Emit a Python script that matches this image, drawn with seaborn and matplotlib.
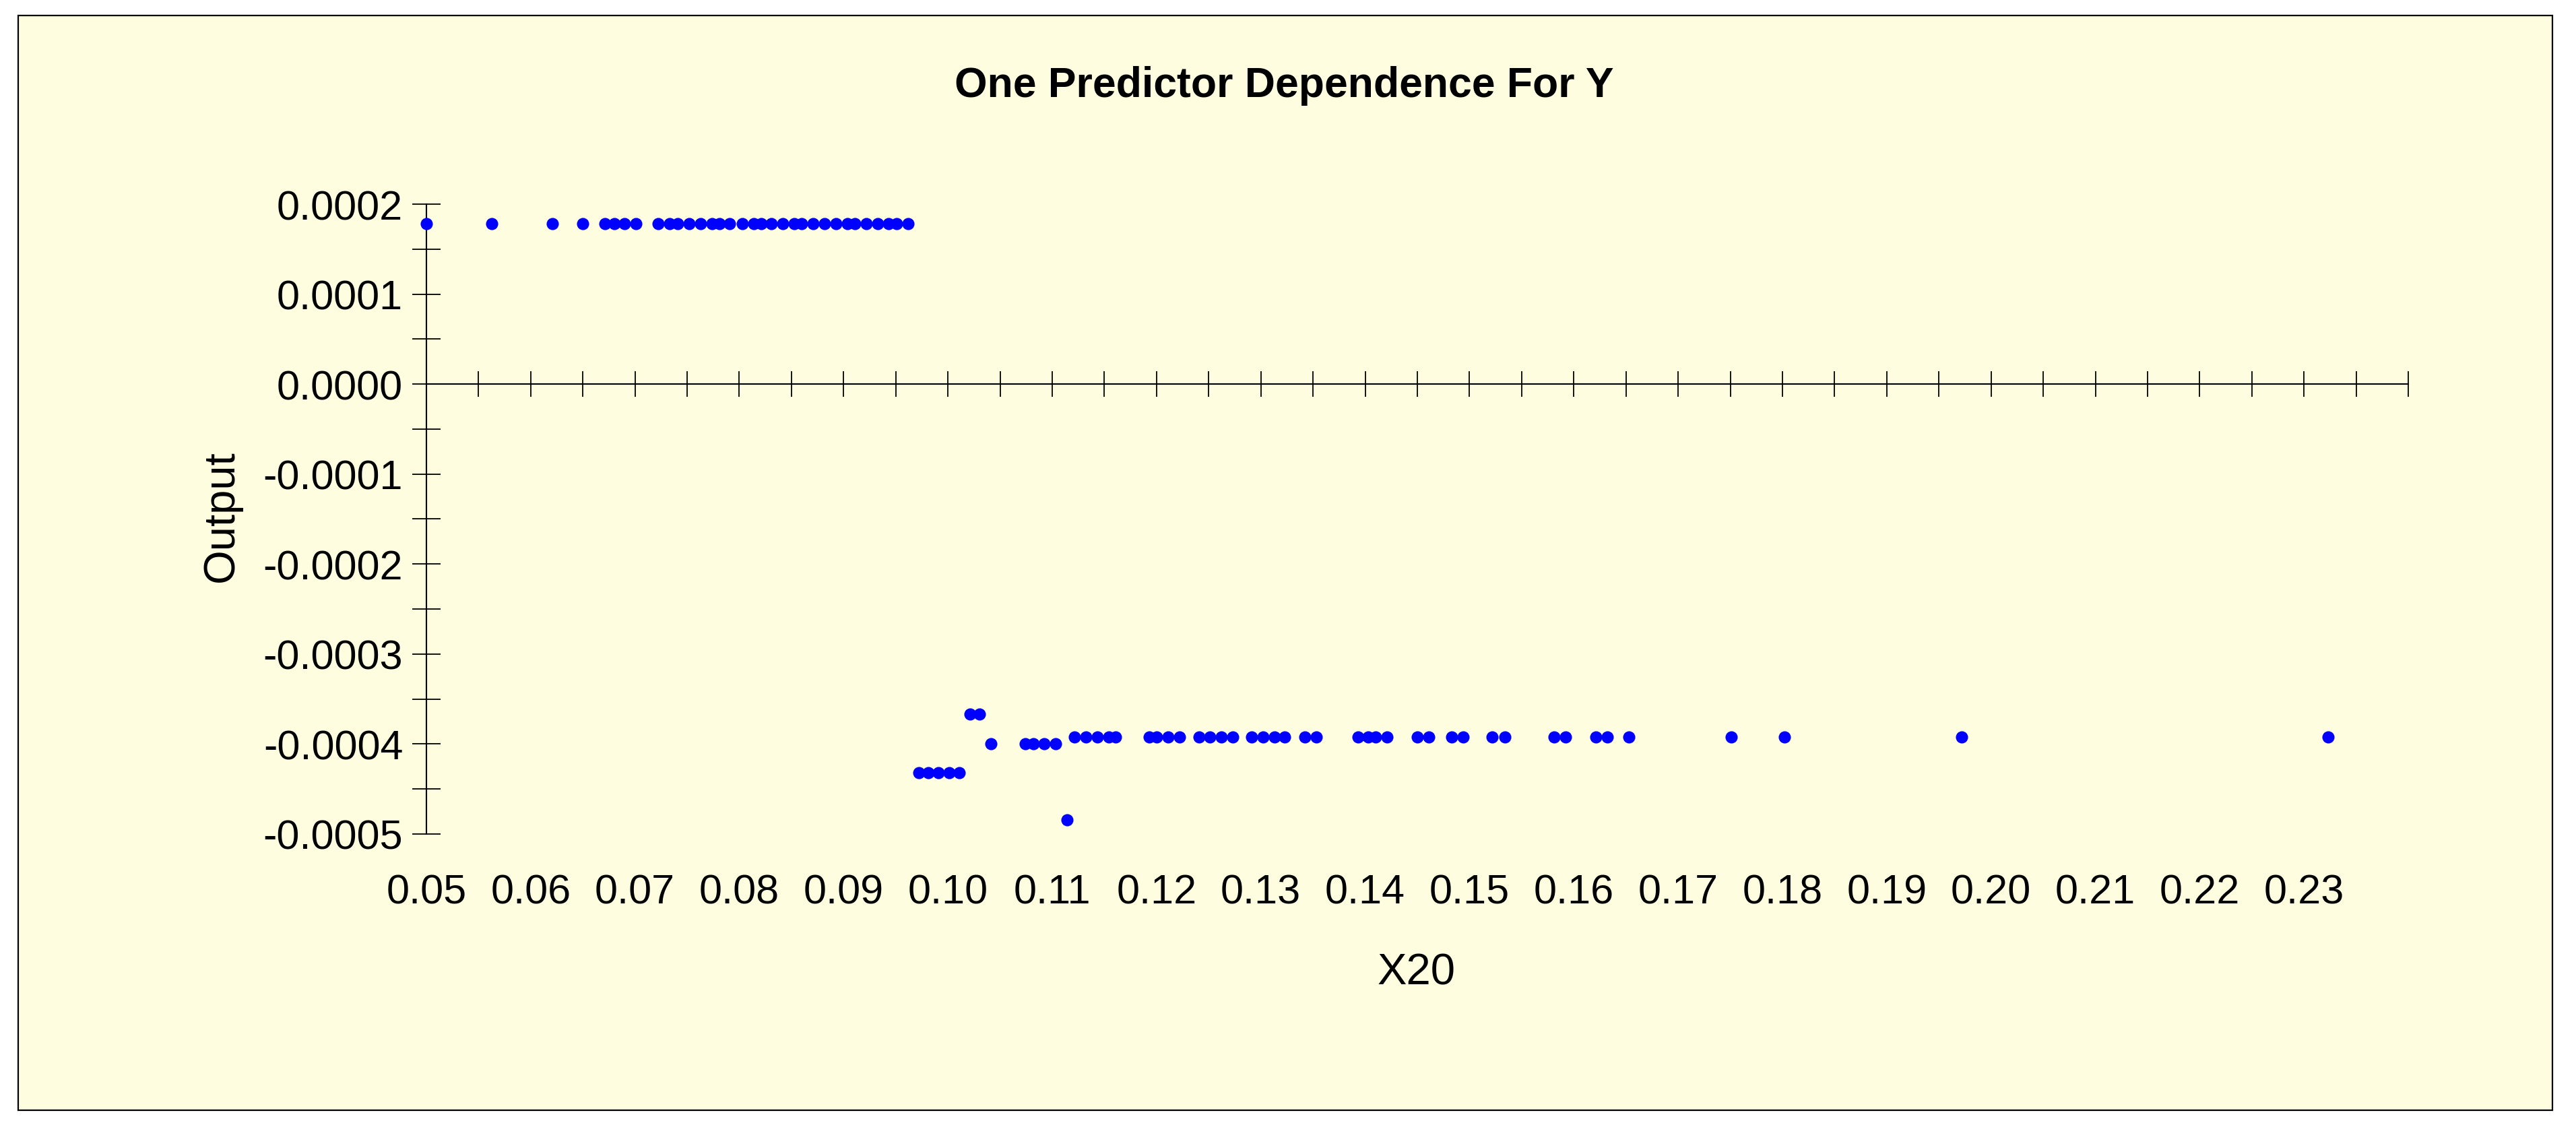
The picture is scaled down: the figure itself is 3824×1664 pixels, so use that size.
import seaborn as sns
import matplotlib.pyplot as plt
import matplotlib.patches as patches
import numpy as np
import pandas as pd

# point groups (x = X20, y = Output)
top_x = [0.0500, 0.0563, 0.0621, 0.0650, 0.0671, 0.0680, 0.0690, 0.0701,
         0.0722, 0.0733, 0.0741, 0.0752, 0.0763, 0.0774, 0.0781, 0.0791,
         0.0803, 0.0814, 0.0821, 0.0831, 0.0842, 0.0853, 0.0860, 0.0871,
         0.0882, 0.0893, 0.0904, 0.0911, 0.0922, 0.0933, 0.0943, 0.0951, 0.0962]
top_y = 0.000178

dip_x = [0.0972, 0.0981, 0.0991, 0.1001, 0.1011]
dip_y = -0.000432

bump_x = [0.1021, 0.1030]
bump_y = -0.000367

mid_x = [0.1041, 0.1074, 0.1082, 0.1092, 0.1103]
mid_y = -0.000400

low_x = [0.1114]
low_y = -0.000484

tail_x = [0.1121, 0.1132, 0.1143, 0.1154, 0.1161, 0.1193, 0.1200, 0.1211,
          0.1222, 0.1241, 0.1251, 0.1262, 0.1273, 0.1291, 0.1302, 0.1313,
          0.1323, 0.1342, 0.1353, 0.1393, 0.1403, 0.1410, 0.1421, 0.1450,
          0.1461, 0.1483, 0.1494, 0.1522, 0.1534, 0.1581, 0.1592, 0.1621,
          0.1632, 0.1653, 0.1751, 0.1802, 0.1972, 0.2323]
tail_y = -0.000392

x_ticks = np.arange(0.05, 0.2401, 0.005)
x_label_pos = np.arange(0.05, 0.235, 0.01)
x_labels = [f"{v:.2f}" for v in x_label_pos]
y_ticks = np.arange(-0.0005, 0.00021, 0.00005)
y_labels = [f"{v:.4f}" if i % 2 == 0 else '' for i, v in enumerate(y_ticks)]

groups = [(top_x, top_y), (dip_x, dip_y), (bump_x, bump_y),
          (mid_x, mid_y), (low_x, low_y), (tail_x, tail_y)]
df = pd.DataFrame({
    "X20": [x for xs, _ in groups for x in xs],
    "Output": [y for xs, y in groups for _ in xs],
})

sns.set_theme(style="white")
plt.rcParams['font.family'] = ['Liberation Sans', 'DejaVu Sans']
plt.rcParams['axes.unicode_minus'] = False
plt.rcParams['text.color'] = 'black'
plt.rcParams['xtick.color'] = 'black'
plt.rcParams['ytick.color'] = 'black'
plt.rcParams['xtick.labelcolor'] = 'black'
plt.rcParams['ytick.labelcolor'] = 'black'

bg = '#FFFDE0'
fig = plt.figure(figsize=(38.24, 16.65), dpi=100, facecolor='white')
fig.patches.append(patches.Rectangle((0.0071, 0.0096), 0.9838, 0.976,
                                     transform=fig.transFigure, facecolor=bg,
                                     edgecolor='black', linewidth=1.6, zorder=-10))

ax = fig.add_axes([0.1655, 0.2559, 0.7694, 0.5615])
ax.set_facecolor('none')
ax.set_zorder(2)

sns.scatterplot(data=df, x="X20", y="Output", color='#0000FF', s=170,
                linewidth=0, clip_on=False, ax=ax, zorder=5)

ax.set_xlim(0.05, 0.24)
ax.set_ylim(-0.0005, 0.0002)
ax.set_xlabel('')
ax.set_ylabel('')

for side in ['top', 'right']:
    ax.spines[side].set_visible(False)
ax.spines['bottom'].set_position(('data', 0))
for side in ['bottom', 'left']:
    ax.spines[side].set_linewidth(1.5)
    ax.spines[side].set_color('black')

ax.set_xticks(x_ticks)
ax.tick_params(axis='x', bottom=True, direction='inout', length=28, width=1.3,
               labelbottom=False, color='black')
ax.set_yticks(y_ticks)
ax.set_yticklabels(y_labels)
ax.tick_params(axis='y', left=True, direction='inout', length=30, width=1.3,
               labelsize=44, pad=10, color='black')

# x labels sit under the plot, not on the zero line
sec = ax.secondary_xaxis('bottom')
sec.set_xticks(x_label_pos)
sec.set_xticklabels(x_labels)
sec.tick_params(bottom=False, length=0, labelsize=44, pad=42)
sec.spines['bottom'].set_visible(False)

fig.text(0.4984, 0.9237, 'One Predictor Dependence For Y', ha='center', va='center',
         fontsize=45, fontweight='bold')
fig.text(0.086, 0.54, 'Output', rotation=90, ha='center', va='center', fontsize=47)
fig.text(0.5497, 0.1327, 'X20', ha='center', va='center', fontsize=47)

fig.savefig('out.png', dpi=100, facecolor='white')
